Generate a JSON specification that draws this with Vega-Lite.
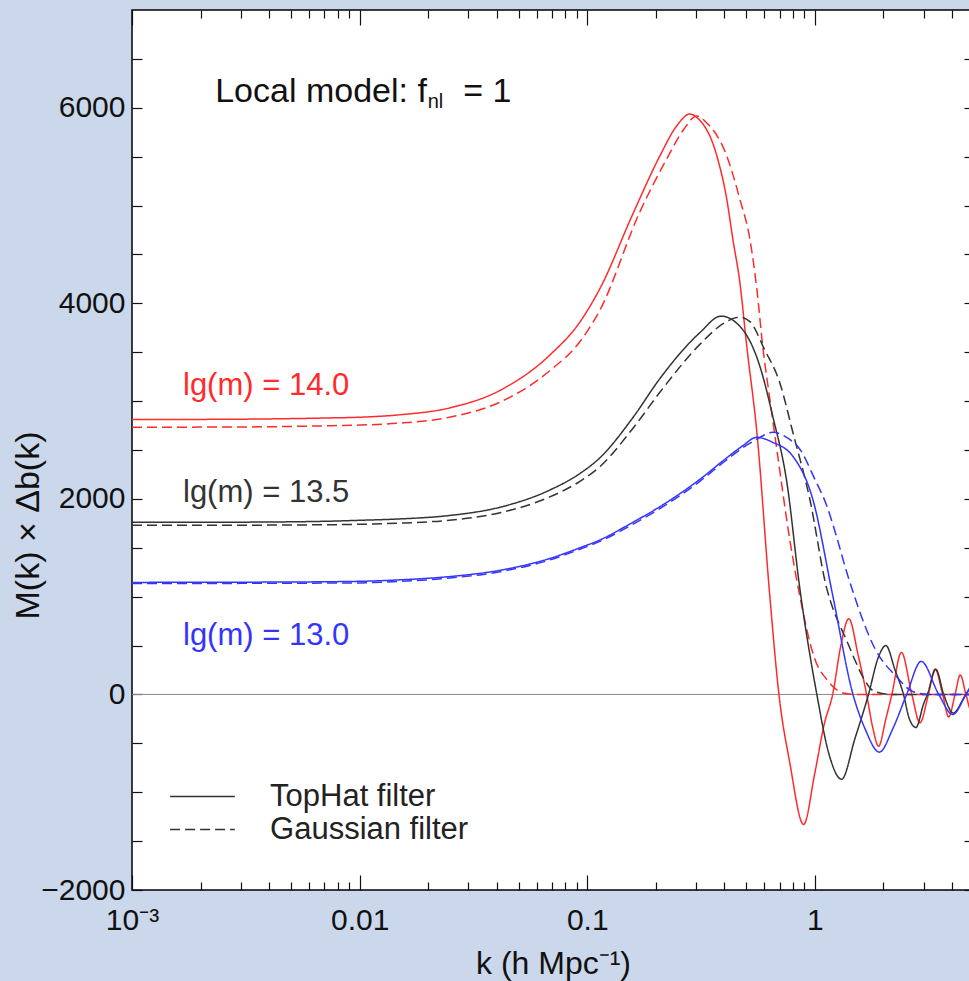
{
  "$schema": "https://vega.github.io/schema/vega-lite/v6.json",
  "width": 842,
  "height": 880,
  "autosize": "none",
  "padding": {"left": 132, "top": 10, "right": 0, "bottom": 91},
  "background": "#cbd8ec",
  "config": {
    "view": {"stroke": "black", "strokeWidth": 1.5, "fill": "white"},
    "font": "Liberation Sans",
    "axis": {"labelFont": "Liberation Sans", "titleFont": "Liberation Sans", "labelColor": "#111", "titleColor": "#111", "titleFontWeight": "normal", "grid": false, "domain": false, "tickColor": "#111", "tickWidth": 1.2}
  },
  "datasets": {
    "curves": [
      {"mass": "14.0", "filter": "TopHat", "k": 0.001, "v": 2812},
      {"mass": "14.0", "filter": "TopHat", "k": 0.002, "v": 2813},
      {"mass": "14.0", "filter": "TopHat", "k": 0.004, "v": 2818},
      {"mass": "14.0", "filter": "TopHat", "k": 0.0074, "v": 2828},
      {"mass": "14.0", "filter": "TopHat", "k": 0.01, "v": 2835},
      {"mass": "14.0", "filter": "TopHat", "k": 0.015, "v": 2860},
      {"mass": "14.0", "filter": "TopHat", "k": 0.0248, "v": 2930},
      {"mass": "14.0", "filter": "TopHat", "k": 0.0414, "v": 3110},
      {"mass": "14.0", "filter": "TopHat", "k": 0.0684, "v": 3470},
      {"mass": "14.0", "filter": "TopHat", "k": 0.0929, "v": 3810},
      {"mass": "14.0", "filter": "TopHat", "k": 0.1136, "v": 4150},
      {"mass": "14.0", "filter": "TopHat", "k": 0.1585, "v": 4913},
      {"mass": "14.0", "filter": "TopHat", "k": 0.2084, "v": 5507},
      {"mass": "14.0", "filter": "TopHat", "k": 0.247, "v": 5814},
      {"mass": "14.0", "filter": "TopHat", "k": 0.282, "v": 5936},
      {"mass": "14.0", "filter": "TopHat", "k": 0.303, "v": 5900},
      {"mass": "14.0", "filter": "TopHat", "k": 0.371, "v": 5507},
      {"mass": "14.0", "filter": "TopHat", "k": 0.41, "v": 5066},
      {"mass": "14.0", "filter": "TopHat", "k": 0.436, "v": 4657},
      {"mass": "14.0", "filter": "TopHat", "k": 0.468, "v": 4217},
      {"mass": "14.0", "filter": "TopHat", "k": 0.502, "v": 3562},
      {"mass": "14.0", "filter": "TopHat", "k": 0.556, "v": 2682},
      {"mass": "14.0", "filter": "TopHat", "k": 0.634, "v": 1003},
      {"mass": "14.0", "filter": "TopHat", "k": 0.695, "v": 0},
      {"mass": "14.0", "filter": "TopHat", "k": 0.776, "v": -700},
      {"mass": "14.0", "filter": "TopHat", "k": 0.892, "v": -1330},
      {"mass": "14.0", "filter": "TopHat", "k": 1.0, "v": -800},
      {"mass": "14.0", "filter": "TopHat", "k": 1.1, "v": -300},
      {"mass": "14.0", "filter": "TopHat", "k": 1.197, "v": 0},
      {"mass": "14.0", "filter": "TopHat", "k": 1.3, "v": 500},
      {"mass": "14.0", "filter": "TopHat", "k": 1.409, "v": 775},
      {"mass": "14.0", "filter": "TopHat", "k": 1.55, "v": 400},
      {"mass": "14.0", "filter": "TopHat", "k": 1.687, "v": 0},
      {"mass": "14.0", "filter": "TopHat", "k": 1.8, "v": -350},
      {"mass": "14.0", "filter": "TopHat", "k": 1.904, "v": -530},
      {"mass": "14.0", "filter": "TopHat", "k": 2.05, "v": -250},
      {"mass": "14.0", "filter": "TopHat", "k": 2.178, "v": 0},
      {"mass": "14.0", "filter": "TopHat", "k": 2.399, "v": 430},
      {"mass": "14.0", "filter": "TopHat", "k": 2.666, "v": 0},
      {"mass": "14.0", "filter": "TopHat", "k": 2.895, "v": -290},
      {"mass": "14.0", "filter": "TopHat", "k": 3.153, "v": 0},
      {"mass": "14.0", "filter": "TopHat", "k": 3.375, "v": 260},
      {"mass": "14.0", "filter": "TopHat", "k": 3.641, "v": 0},
      {"mass": "14.0", "filter": "TopHat", "k": 3.87, "v": -230},
      {"mass": "14.0", "filter": "TopHat", "k": 4.128, "v": 0},
      {"mass": "14.0", "filter": "TopHat", "k": 4.35, "v": 200},
      {"mass": "14.0", "filter": "TopHat", "k": 4.61, "v": 0},
      {"mass": "14.0", "filter": "TopHat", "k": 4.85, "v": -160},
      {"mass": "14.0", "filter": "TopHat", "k": 5.0, "v": -80},

      {"mass": "14.0", "filter": "Gaussian", "k": 0.001, "v": 2733},
      {"mass": "14.0", "filter": "Gaussian", "k": 0.002, "v": 2734},
      {"mass": "14.0", "filter": "Gaussian", "k": 0.004, "v": 2738},
      {"mass": "14.0", "filter": "Gaussian", "k": 0.0074, "v": 2748},
      {"mass": "14.0", "filter": "Gaussian", "k": 0.01, "v": 2755},
      {"mass": "14.0", "filter": "Gaussian", "k": 0.015, "v": 2775},
      {"mass": "14.0", "filter": "Gaussian", "k": 0.0248, "v": 2835},
      {"mass": "14.0", "filter": "Gaussian", "k": 0.0414, "v": 2990},
      {"mass": "14.0", "filter": "Gaussian", "k": 0.0684, "v": 3310},
      {"mass": "14.0", "filter": "Gaussian", "k": 0.0929, "v": 3610},
      {"mass": "14.0", "filter": "Gaussian", "k": 0.1136, "v": 3930},
      {"mass": "14.0", "filter": "Gaussian", "k": 0.17, "v": 4933},
      {"mass": "14.0", "filter": "Gaussian", "k": 0.2237, "v": 5480},
      {"mass": "14.0", "filter": "Gaussian", "k": 0.2656, "v": 5780},
      {"mass": "14.0", "filter": "Gaussian", "k": 0.303, "v": 5916},
      {"mass": "14.0", "filter": "Gaussian", "k": 0.33, "v": 5860},
      {"mass": "14.0", "filter": "Gaussian", "k": 0.41, "v": 5507},
      {"mass": "14.0", "filter": "Gaussian", "k": 0.468, "v": 5066},
      {"mass": "14.0", "filter": "Gaussian", "k": 0.518, "v": 4657},
      {"mass": "14.0", "filter": "Gaussian", "k": 0.556, "v": 4145},
      {"mass": "14.0", "filter": "Gaussian", "k": 0.59, "v": 3562},
      {"mass": "14.0", "filter": "Gaussian", "k": 0.634, "v": 3020},
      {"mass": "14.0", "filter": "Gaussian", "k": 0.681, "v": 2500},
      {"mass": "14.0", "filter": "Gaussian", "k": 0.776, "v": 1580},
      {"mass": "14.0", "filter": "Gaussian", "k": 0.859, "v": 1003},
      {"mass": "14.0", "filter": "Gaussian", "k": 1.0, "v": 360},
      {"mass": "14.0", "filter": "Gaussian", "k": 1.13, "v": 150},
      {"mass": "14.0", "filter": "Gaussian", "k": 1.2, "v": 80},
      {"mass": "14.0", "filter": "Gaussian", "k": 1.33, "v": 15},
      {"mass": "14.0", "filter": "Gaussian", "k": 1.5, "v": 0},
      {"mass": "14.0", "filter": "Gaussian", "k": 5.0, "v": 0},

      {"mass": "13.5", "filter": "TopHat", "k": 0.001, "v": 1760},
      {"mass": "13.5", "filter": "TopHat", "k": 0.003, "v": 1762},
      {"mass": "13.5", "filter": "TopHat", "k": 0.0074, "v": 1772},
      {"mass": "13.5", "filter": "TopHat", "k": 0.01, "v": 1781},
      {"mass": "13.5", "filter": "TopHat", "k": 0.015, "v": 1795},
      {"mass": "13.5", "filter": "TopHat", "k": 0.0248, "v": 1830},
      {"mass": "13.5", "filter": "TopHat", "k": 0.0414, "v": 1915},
      {"mass": "13.5", "filter": "TopHat", "k": 0.0684, "v": 2090},
      {"mass": "13.5", "filter": "TopHat", "k": 0.0929, "v": 2260},
      {"mass": "13.5", "filter": "TopHat", "k": 0.1136, "v": 2420},
      {"mass": "13.5", "filter": "TopHat", "k": 0.1585, "v": 2830},
      {"mass": "13.5", "filter": "TopHat", "k": 0.2084, "v": 3230},
      {"mass": "13.5", "filter": "TopHat", "k": 0.3123, "v": 3700},
      {"mass": "13.5", "filter": "TopHat", "k": 0.387, "v": 3869},
      {"mass": "13.5", "filter": "TopHat", "k": 0.48, "v": 3736},
      {"mass": "13.5", "filter": "TopHat", "k": 0.573, "v": 3357},
      {"mass": "13.5", "filter": "TopHat", "k": 0.653, "v": 2845},
      {"mass": "13.5", "filter": "TopHat", "k": 0.753, "v": 2170},
      {"mass": "13.5", "filter": "TopHat", "k": 0.859, "v": 1080},
      {"mass": "13.5", "filter": "TopHat", "k": 1.02, "v": 0},
      {"mass": "13.5", "filter": "TopHat", "k": 1.15, "v": -600},
      {"mass": "13.5", "filter": "TopHat", "k": 1.31, "v": -867},
      {"mass": "13.5", "filter": "TopHat", "k": 1.5, "v": -450},
      {"mass": "13.5", "filter": "TopHat", "k": 1.72, "v": 0},
      {"mass": "13.5", "filter": "TopHat", "k": 1.9, "v": 380},
      {"mass": "13.5", "filter": "TopHat", "k": 2.05, "v": 500},
      {"mass": "13.5", "filter": "TopHat", "k": 2.25, "v": 250},
      {"mass": "13.5", "filter": "TopHat", "k": 2.45, "v": 0},
      {"mass": "13.5", "filter": "TopHat", "k": 2.6, "v": -250},
      {"mass": "13.5", "filter": "TopHat", "k": 2.78, "v": -338},
      {"mass": "13.5", "filter": "TopHat", "k": 3.0, "v": -100},
      {"mass": "13.5", "filter": "TopHat", "k": 3.12, "v": 0},
      {"mass": "13.5", "filter": "TopHat", "k": 3.4, "v": 256},
      {"mass": "13.5", "filter": "TopHat", "k": 3.68, "v": 0},
      {"mass": "13.5", "filter": "TopHat", "k": 4.05, "v": -190},
      {"mass": "13.5", "filter": "TopHat", "k": 4.6, "v": 0},
      {"mass": "13.5", "filter": "TopHat", "k": 5.0, "v": 120},

      {"mass": "13.5", "filter": "Gaussian", "k": 0.001, "v": 1730},
      {"mass": "13.5", "filter": "Gaussian", "k": 0.003, "v": 1731},
      {"mass": "13.5", "filter": "Gaussian", "k": 0.0074, "v": 1736},
      {"mass": "13.5", "filter": "Gaussian", "k": 0.01, "v": 1740},
      {"mass": "13.5", "filter": "Gaussian", "k": 0.015, "v": 1752},
      {"mass": "13.5", "filter": "Gaussian", "k": 0.0248, "v": 1782},
      {"mass": "13.5", "filter": "Gaussian", "k": 0.0414, "v": 1858},
      {"mass": "13.5", "filter": "Gaussian", "k": 0.0684, "v": 2020},
      {"mass": "13.5", "filter": "Gaussian", "k": 0.0929, "v": 2180},
      {"mass": "13.5", "filter": "Gaussian", "k": 0.1136, "v": 2330},
      {"mass": "13.5", "filter": "Gaussian", "k": 0.1585, "v": 2720},
      {"mass": "13.5", "filter": "Gaussian", "k": 0.2084, "v": 3090},
      {"mass": "13.5", "filter": "Gaussian", "k": 0.3123, "v": 3580},
      {"mass": "13.5", "filter": "Gaussian", "k": 0.4, "v": 3800},
      {"mass": "13.5", "filter": "Gaussian", "k": 0.468, "v": 3859},
      {"mass": "13.5", "filter": "Gaussian", "k": 0.52, "v": 3810},
      {"mass": "13.5", "filter": "Gaussian", "k": 0.6, "v": 3531},
      {"mass": "13.5", "filter": "Gaussian", "k": 0.7, "v": 3193},
      {"mass": "13.5", "filter": "Gaussian", "k": 0.8, "v": 2682},
      {"mass": "13.5", "filter": "Gaussian", "k": 0.95, "v": 1996},
      {"mass": "13.5", "filter": "Gaussian", "k": 1.13, "v": 1075},
      {"mass": "13.5", "filter": "Gaussian", "k": 1.2, "v": 880},
      {"mass": "13.5", "filter": "Gaussian", "k": 1.29, "v": 700},
      {"mass": "13.5", "filter": "Gaussian", "k": 1.38, "v": 550},
      {"mass": "13.5", "filter": "Gaussian", "k": 1.5, "v": 350},
      {"mass": "13.5", "filter": "Gaussian", "k": 1.62, "v": 184},
      {"mass": "13.5", "filter": "Gaussian", "k": 1.83, "v": 30},
      {"mass": "13.5", "filter": "Gaussian", "k": 2.2, "v": 0},
      {"mass": "13.5", "filter": "Gaussian", "k": 5.0, "v": 0},

      {"mass": "13.0", "filter": "TopHat", "k": 0.001, "v": 1146},
      {"mass": "13.0", "filter": "TopHat", "k": 0.003, "v": 1148},
      {"mass": "13.0", "filter": "TopHat", "k": 0.0074, "v": 1153},
      {"mass": "13.0", "filter": "TopHat", "k": 0.01, "v": 1157},
      {"mass": "13.0", "filter": "TopHat", "k": 0.015, "v": 1172},
      {"mass": "13.0", "filter": "TopHat", "k": 0.0248, "v": 1205},
      {"mass": "13.0", "filter": "TopHat", "k": 0.0414, "v": 1270},
      {"mass": "13.0", "filter": "TopHat", "k": 0.0684, "v": 1390},
      {"mass": "13.0", "filter": "TopHat", "k": 0.0929, "v": 1500},
      {"mass": "13.0", "filter": "TopHat", "k": 0.1136, "v": 1580},
      {"mass": "13.0", "filter": "TopHat", "k": 0.1585, "v": 1760},
      {"mass": "13.0", "filter": "TopHat", "k": 0.2084, "v": 1920},
      {"mass": "13.0", "filter": "TopHat", "k": 0.3123, "v": 2200},
      {"mass": "13.0", "filter": "TopHat", "k": 0.4, "v": 2400},
      {"mass": "13.0", "filter": "TopHat", "k": 0.48, "v": 2540},
      {"mass": "13.0", "filter": "TopHat", "k": 0.556, "v": 2630},
      {"mass": "13.0", "filter": "TopHat", "k": 0.65, "v": 2580},
      {"mass": "13.0", "filter": "TopHat", "k": 0.8, "v": 2436},
      {"mass": "13.0", "filter": "TopHat", "k": 0.979, "v": 1996},
      {"mass": "13.0", "filter": "TopHat", "k": 1.2, "v": 1003},
      {"mass": "13.0", "filter": "TopHat", "k": 1.47, "v": 0},
      {"mass": "13.0", "filter": "TopHat", "k": 1.66, "v": -350},
      {"mass": "13.0", "filter": "TopHat", "k": 1.92, "v": -590},
      {"mass": "13.0", "filter": "TopHat", "k": 2.2, "v": -350},
      {"mass": "13.0", "filter": "TopHat", "k": 2.53, "v": 0},
      {"mass": "13.0", "filter": "TopHat", "k": 2.93, "v": 338},
      {"mass": "13.0", "filter": "TopHat", "k": 3.5, "v": 0},
      {"mass": "13.0", "filter": "TopHat", "k": 4.03, "v": -205},
      {"mass": "13.0", "filter": "TopHat", "k": 4.61, "v": 0},
      {"mass": "13.0", "filter": "TopHat", "k": 5.0, "v": 150},

      {"mass": "13.0", "filter": "Gaussian", "k": 0.001, "v": 1135},
      {"mass": "13.0", "filter": "Gaussian", "k": 0.003, "v": 1136},
      {"mass": "13.0", "filter": "Gaussian", "k": 0.0074, "v": 1139},
      {"mass": "13.0", "filter": "Gaussian", "k": 0.01, "v": 1141},
      {"mass": "13.0", "filter": "Gaussian", "k": 0.015, "v": 1156},
      {"mass": "13.0", "filter": "Gaussian", "k": 0.0248, "v": 1190},
      {"mass": "13.0", "filter": "Gaussian", "k": 0.0414, "v": 1255},
      {"mass": "13.0", "filter": "Gaussian", "k": 0.0684, "v": 1375},
      {"mass": "13.0", "filter": "Gaussian", "k": 0.0929, "v": 1485},
      {"mass": "13.0", "filter": "Gaussian", "k": 0.1136, "v": 1565},
      {"mass": "13.0", "filter": "Gaussian", "k": 0.1585, "v": 1740},
      {"mass": "13.0", "filter": "Gaussian", "k": 0.2084, "v": 1900},
      {"mass": "13.0", "filter": "Gaussian", "k": 0.3123, "v": 2180},
      {"mass": "13.0", "filter": "Gaussian", "k": 0.4, "v": 2380},
      {"mass": "13.0", "filter": "Gaussian", "k": 0.48, "v": 2520},
      {"mass": "13.0", "filter": "Gaussian", "k": 0.556, "v": 2610},
      {"mass": "13.0", "filter": "Gaussian", "k": 0.653, "v": 2682},
      {"mass": "13.0", "filter": "Gaussian", "k": 0.75, "v": 2630},
      {"mass": "13.0", "filter": "Gaussian", "k": 0.859, "v": 2508},
      {"mass": "13.0", "filter": "Gaussian", "k": 1.0, "v": 2200},
      {"mass": "13.0", "filter": "Gaussian", "k": 1.13, "v": 1924},
      {"mass": "13.0", "filter": "Gaussian", "k": 1.25, "v": 1600},
      {"mass": "13.0", "filter": "Gaussian", "k": 1.38, "v": 1250},
      {"mass": "13.0", "filter": "Gaussian", "k": 1.47, "v": 1050},
      {"mass": "13.0", "filter": "Gaussian", "k": 1.6, "v": 800},
      {"mass": "13.0", "filter": "Gaussian", "k": 1.83, "v": 475},
      {"mass": "13.0", "filter": "Gaussian", "k": 2.3, "v": 174},
      {"mass": "13.0", "filter": "Gaussian", "k": 2.69, "v": 30},
      {"mass": "13.0", "filter": "Gaussian", "k": 3.2, "v": 0},
      {"mass": "13.0", "filter": "Gaussian", "k": 5.0, "v": 0}
    ],
    "legendlines": [
      {"filter": "TopHat", "k": 0.00147, "v": -1044},
      {"filter": "TopHat", "k": 0.00283, "v": -1044},
      {"filter": "Gaussian", "k": 0.00147, "v": -1382},
      {"filter": "Gaussian", "k": 0.00283, "v": -1382}
    ],
    "legendtext": [
      {"k": 0.00404, "v": -1044, "label": "TopHat filter"},
      {"k": 0.00404, "v": -1382, "label": "Gaussian filter"}
    ],
    "masslabels": [
      {"mass": "14.0", "k": 0.001675, "v": 3152, "label": "lg(m) = 14.0"},
      {"mass": "13.5", "k": 0.001675, "v": 2057, "label": "lg(m) = 13.5"},
      {"mass": "13.0", "k": 0.001675, "v": 594, "label": "lg(m) = 13.0"}
    ]
  },
  "layer": [
    {
      "data": {"values": [{"v": 0}]},
      "mark": {"type": "rule", "color": "#8a8a8a", "strokeWidth": 1},
      "encoding": {"y": {"field": "v", "type": "quantitative", "axis": null}}
    },
    {
      "data": {"name": "curves"},
      "mark": {"type": "line", "strokeWidth": 1.5, "interpolate": "monotone", "clip": true},
      "encoding": {
        "x": {
          "field": "k", "type": "quantitative",
          "scale": {"type": "log", "domain": [0.001, 5], "nice": false},
          "axis": {
            "orient": "bottom",
            "values": [0.001, 0.002, 0.003, 0.004, 0.005, 0.006, 0.007, 0.008, 0.009, 0.01, 0.02, 0.03, 0.04, 0.05, 0.06, 0.07, 0.08, 0.09, 0.1, 0.2, 0.3, 0.4, 0.5, 0.6, 0.7, 0.8, 0.9, 1, 2, 3, 4, 5],
            "labelExpr": "datum.value == 0.001 ? '10⁻³' : datum.value == 0.01 ? '0.01' : datum.value == 0.1 ? '0.1' : datum.value == 1 ? '1' : ''",
            "tickSize": {"condition": {"test": "indexof([0.001, 0.01, 0.1, 1], datum.value) >= 0", "value": -15}, "value": -8},
            "labelPadding": 30,
            "labelFontSize": 30,
            "labelFlush": false,
            "labelOverlap": false,
            "title": "k (h Mpc⁻¹)",
            "titleFontSize": 32,
            "titlePadding": 6
          }
        },
        "y": {
          "field": "v", "type": "quantitative",
          "scale": {"domain": [-2000, 7000], "nice": false, "zero": false},
          "axis": {
            "orient": "left",
            "values": [-2000, -1500, -1000, -500, 0, 500, 1000, 1500, 2000, 2500, 3000, 3500, 4000, 4500, 5000, 5500, 6000, 6500],
            "labelExpr": "datum.value % 2000 == 0 ? (datum.value < 0 ? '−' + abs(datum.value) : '' + datum.value) : ''",
            "tickSize": -10,
            "labelPadding": 17,
            "labelFontSize": 30,
            "labelOverlap": false,
            "title": "M(k) × Δb(k)",
            "titleFontSize": 34,
            "titleX": -104,
            "titleY": 515,
            "titleAlign": "center",
            "titleBaseline": "middle"
          }
        },
        "color": {"field": "mass", "type": "nominal", "scale": {"domain": ["14.0", "13.5", "13.0"], "range": ["#ff2b2b", "#333333", "#3434ff"]}, "legend": null},
        "strokeDash": {"field": "filter", "type": "nominal", "scale": {"domain": ["TopHat", "Gaussian"], "range": [[1, 0], [10, 5]]}, "legend": null},
        "detail": {"field": "filter"}
      }
    },
    {
      "data": {"name": "legendlines"},
      "mark": {"type": "line", "strokeWidth": 1.5, "color": "#333333"},
      "encoding": {
        "x": {
          "field": "k", "type": "quantitative",
          "axis": {
            "orient": "top",
            "values": [0.001, 0.002, 0.003, 0.004, 0.005, 0.006, 0.007, 0.008, 0.009, 0.01, 0.02, 0.03, 0.04, 0.05, 0.06, 0.07, 0.08, 0.09, 0.1, 0.2, 0.3, 0.4, 0.5, 0.6, 0.7, 0.8, 0.9, 1, 2, 3, 4, 5],
            "labels": false,
            "tickSize": {"condition": {"test": "indexof([0.001, 0.01, 0.1, 1], datum.value) >= 0", "value": -15}, "value": -8},
            "title": null
          }
        },
        "y": {
          "field": "v", "type": "quantitative",
          "axis": {
            "orient": "right",
            "values": [-2000, -1500, -1000, -500, 0, 500, 1000, 1500, 2000, 2500, 3000, 3500, 4000, 4500, 5000, 5500, 6000, 6500],
            "labels": false,
            "tickSize": -10,
            "title": null
          }
        },
        "strokeDash": {"field": "filter", "type": "nominal", "legend": null}
      }
    },
    {
      "data": {"name": "legendtext"},
      "mark": {"type": "text", "align": "left", "baseline": "middle", "fontSize": 31, "color": "#222", "font": "Liberation Sans"},
      "encoding": {
        "x": {"field": "k", "type": "quantitative", "axis": null},
        "y": {"field": "v", "type": "quantitative", "axis": null},
        "text": {"field": "label"}
      }
    },
    {
      "data": {"name": "masslabels"},
      "mark": {"type": "text", "align": "left", "baseline": "middle", "fontSize": 31, "font": "Liberation Sans"},
      "encoding": {
        "x": {"field": "k", "type": "quantitative", "axis": null},
        "y": {"field": "v", "type": "quantitative", "axis": null},
        "text": {"field": "label"},
        "color": {"field": "mass", "type": "nominal", "legend": null}
      }
    },
    {
      "data": {"values": [{"k": 0.00232, "v": 6059, "label": "Local model: f"}, {"k": 0.0285, "v": 6059, "label": "= 1"}]},
      "mark": {"type": "text", "align": "left", "baseline": "alphabetic", "fontSize": 34, "color": "#111", "font": "Liberation Sans"},
      "encoding": {
        "x": {"field": "k", "type": "quantitative", "axis": null},
        "y": {"field": "v", "type": "quantitative", "axis": null},
        "text": {"field": "label"}
      }
    },
    {
      "data": {"values": [{"k": 0.0199, "v": 6000, "label": "nl"}]},
      "mark": {"type": "text", "align": "left", "baseline": "alphabetic", "fontSize": 20, "color": "#111", "font": "Liberation Sans"},
      "encoding": {
        "x": {"field": "k", "type": "quantitative", "axis": null},
        "y": {"field": "v", "type": "quantitative", "axis": null},
        "text": {"field": "label"}
      }
    }
  ],
  "resolve": {"axis": {"x": "independent", "y": "independent"}}
}
